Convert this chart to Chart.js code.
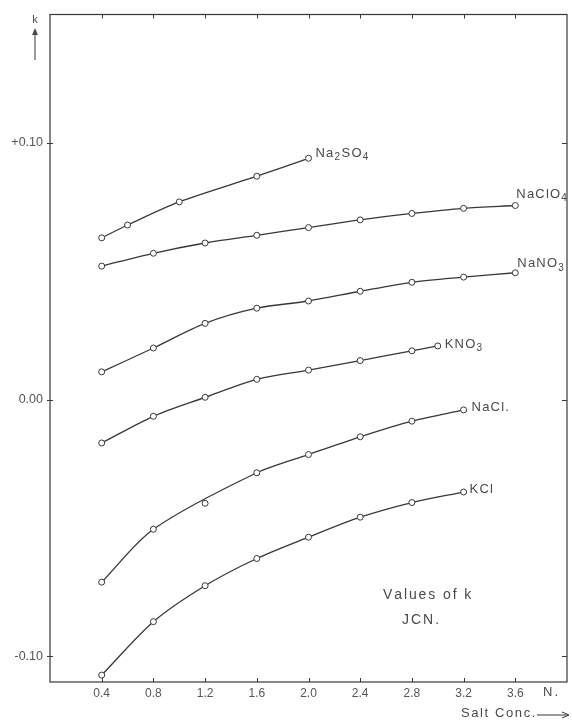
<!DOCTYPE html>
<html>
<head>
<meta charset="utf-8">
<script src="https://cdn.jsdelivr.net/npm/chart.js@4/dist/chart.umd.min.js"></script>
<style>
  html, body { margin: 0; padding: 0; background: #fff; }
  #wrap { width: 572px; height: 724px; }
</style>
</head>
<body>
<div id="wrap"><canvas id="kChart" width="572" height="724"></canvas></div>
<script>
// salt concentration (N) and values of k
const conc = [0.4, 0.8, 1.2, 1.6, 2.0, 2.4, 2.8, 3.2, 3.6];
const concNa2SO4 = [0.4, 0.6, 1.0, 1.6, 2.0];
const concKNO3 = [0.4, 0.8, 1.2, 1.6, 2.0, 2.4, 2.8, 3.0];
const concCl = [0.4, 0.8, 1.2, 1.6, 2.0, 2.4, 2.8, 3.2];

const kNa2SO4 = [0.063, 0.068, 0.077, 0.087, 0.094];
const kNaClO4 = [0.052, 0.057, 0.061, 0.064, 0.067, 0.070, 0.0725, 0.0745, 0.0756];
const kNaNO3 = [0.0108, 0.0201, 0.0297, 0.0356, 0.0384, 0.0422, 0.0457, 0.0477, 0.0494];
const kKNO3 = [-0.0169, -0.0065, 0.0009, 0.0079, 0.0115, 0.0152, 0.0190, 0.0209];
const kNaCl = [-0.0711, -0.0505, -0.0404, -0.0285, -0.0214, -0.0145, -0.0084, -0.0040];
const kKCl = [-0.1073, -0.0865, -0.0725, -0.0619, -0.0536, -0.0458, -0.0401, -0.0360];
// the NaCl curve is drawn passing above the 1.2 N point
const naclCurveSkip = [1.2];

const xTicks = [0.4, 0.8, 1.2, 1.6, 2.0, 2.4, 2.8, 3.2, 3.6];
const yTicks = [-0.10, 0.00, 0.10];
const yTickLabels = ['-0.10', '0.00', '+0.10'];

const INK = '#383838';
const TEXT = '#4a4a4a';
const FONT = '"Liberation Sans", Arial, sans-serif';

function pts(xs, ys, skip = []) {
    return xs.map((x, i) => ({ x, y: skip.includes(x) ? null : ys[i] }));
}

function lineSet(label, xs, ys, extra = {}) {
    return Object.assign({
        label,
        data: pts(xs, ys),
        borderColor: INK,
        borderWidth: 1.3,
        tension: 0.3,
        pointRadius: 3,
        pointBackgroundColor: '#fff',
        pointBorderColor: INK,
        pointBorderWidth: 1,
        fill: false,
    }, extra);
}

// series labels: [formula, x values, k values, dx, dy] placed off the last point
const seriesLabels = [
    ['Na2SO4', concNa2SO4, kNa2SO4, 7, -5],
    ['NaClO4', conc, kNaClO4, 1, -11],
    ['NaNO3', conc, kNaNO3, 2, -9],
    ['KNO3', concKNO3, kKNO3, 7, -2],
    ['NaCl.', concCl, kNaCl, 8, -2],
    ['KCl', concCl, kKCl, 6, -3],
];

function drawFormula(ctx, text, x, y) {
    ctx.textBaseline = 'middle';
    ctx.textAlign = 'left';
    let cx = x;
    for (const ch of text) {
        const sub = /[0-9]/.test(ch);
        ctx.font = (sub ? '10px ' : '13px ') + FONT;
        ctx.fillText(ch, cx, sub ? y + 4 : y);
        cx += ctx.measureText(ch).width + (sub ? 1.5 : 1.2);
    }
}

function spaced(ctx, text, x, y, gap) {
    let cx = x;
    for (const ch of text) {
        ctx.fillText(ch, cx, y);
        cx += ctx.measureText(ch).width + gap;
    }
    return cx;
}

const decorations = {
    id: 'decorations',
    afterDatasetsDraw(chart) {
        const { ctx, chartArea: a, scales } = chart;
        const sx = scales.x, sy = scales.y;
        ctx.save();
        ctx.strokeStyle = INK;
        ctx.lineWidth = 1.2;
        ctx.strokeRect(a.left, a.top, a.right - a.left, a.bottom - a.top);

        // inward tick marks on every side
        ctx.lineWidth = 1;
        ctx.beginPath();
        xTicks.forEach(v => {
            const px = Math.round(sx.getPixelForValue(v)) + 0.5;
            ctx.moveTo(px, a.bottom); ctx.lineTo(px, a.bottom - 4);
            ctx.moveTo(px, a.top); ctx.lineTo(px, a.top + 4);
        });
        yTicks.forEach(v => {
            const py = Math.round(sy.getPixelForValue(v)) + 0.5;
            ctx.moveTo(a.left - 3, py); ctx.lineTo(a.left + 3, py);
            ctx.moveTo(a.right, py); ctx.lineTo(a.right - 5, py);
        });
        ctx.stroke();

        // formula labels at the end of each curve
        ctx.fillStyle = TEXT;
        seriesLabels.forEach(([name, xs, ys, dx, dy]) => {
            const n = xs.length - 1;
            drawFormula(ctx, name, sx.getPixelForValue(xs[n]) + dx, sy.getPixelForValue(ys[n]) + dy);
        });

        // captions
        ctx.font = '14px ' + FONT;
        ctx.textBaseline = 'middle';
        spaced(ctx, 'Values of k', 383, 595, 1.9);
        spaced(ctx, 'JCN.', 402, 620, 2);

        ctx.font = '13px ' + FONT;
        spaced(ctx, 'N.', 543, 692, 2);
        const end = spaced(ctx, 'Salt Conc.', 461, 713, 1.6);

        // x-axis arrow
        ctx.beginPath();
        ctx.moveTo(end, 715); ctx.lineTo(568, 715);
        ctx.moveTo(562, 712); ctx.lineTo(569, 715); ctx.lineTo(562, 718);
        ctx.stroke();

        // y-axis k with arrow
        ctx.font = '11px ' + FONT;
        ctx.textAlign = 'center';
        ctx.fillText('k', 35, 20);
        ctx.beginPath();
        ctx.moveTo(35, 60); ctx.lineTo(35, 30);
        ctx.stroke();
        ctx.beginPath();
        ctx.moveTo(35, 28); ctx.lineTo(32, 35); ctx.lineTo(38, 35);
        ctx.closePath();
        ctx.fill();
        ctx.restore();
    },
};

new Chart(document.getElementById('kChart'), {
    type: 'line',
    data: {
        datasets: [
            lineSet('Na2SO4', concNa2SO4, kNa2SO4),
            lineSet('NaClO4', conc, kNaClO4),
            lineSet('NaNO3', conc, kNaNO3),
            lineSet('KNO3', concKNO3, kKNO3),
            lineSet('NaCl. points', concCl, kNaCl, { showLine: false }),
            lineSet('NaCl.', concCl, kNaCl, {
                data: pts(concCl, kNaCl, naclCurveSkip),
                spanGaps: true,
                pointRadius: 0,
            }),
            lineSet('KCl', concCl, kKCl),
        ],
    },
    options: {
        responsive: false,
        animation: false,
        events: [],
        layout: { padding: { top: 13, right: 1, left: 0, bottom: 0 } },
        plugins: {
            legend: { display: false },
            tooltip: { enabled: false },
        },
        scales: {
            x: {
                type: 'linear',
                min: 0,
                max: 4.0,
                grid: { display: false, drawTicks: false },
                border: { display: false },
                afterBuildTicks: s => { s.ticks = xTicks.map(v => ({ value: v })); },
                afterFit: s => { s.height = 42; },
                ticks: {
                    color: '#555',
                    padding: 4,
                    font: { family: FONT, size: 12 },
                    callback: v => v.toFixed(1),
                },
            },
            y: {
                type: 'linear',
                min: -0.11,
                max: 0.15,
                grid: { display: false, drawTicks: false },
                border: { display: false },
                afterBuildTicks: s => { s.ticks = yTicks.map(v => ({ value: v })); },
                afterFit: s => { s.width = 50; },
                ticks: {
                    color: '#555',
                    padding: 7,
                    font: { family: FONT, size: 12.5 },
                    callback: (v, i) => yTickLabels[i],
                },
            },
        },
    },
    plugins: [decorations],
});
</script>
</body>
</html>
